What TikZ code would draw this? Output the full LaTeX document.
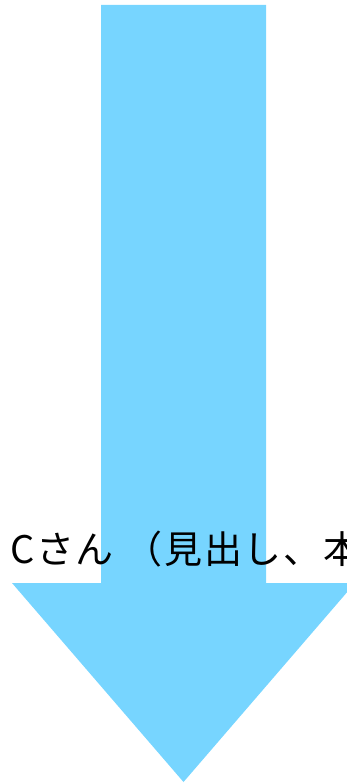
\documentclass[tikz,border=0pt]{standalone}
\usepackage{fontspec}
\newfontfamily\jpfont[LetterSpace=4.5]{Noto Sans CJK JP}
\definecolor{arrowblue}{RGB}{119,213,255}
\tikzset{
  arrowfill/.style={fill=arrowblue, draw=none},
  labeltext/.style={font=\jpfont\fontsize{38}{44}\selectfont, inner sep=0pt, anchor=base west, text=black}
}
\begin{document}
\begin{tikzpicture}[x=1pt,y=-1pt]
\useasboundingbox (0,0) rectangle (347,784);
\clip (0,0) rectangle (347,784);
\fill[arrowfill] (101,5) -- (266,5) -- (266,583) -- (355,583) -- (183.5,782) -- (12,583) -- (101,583) -- cycle;
\node[labeltext] (lbl) at (10,563) {Cさん\kern11pt（見出し、本};
\end{tikzpicture}
\end{document}
